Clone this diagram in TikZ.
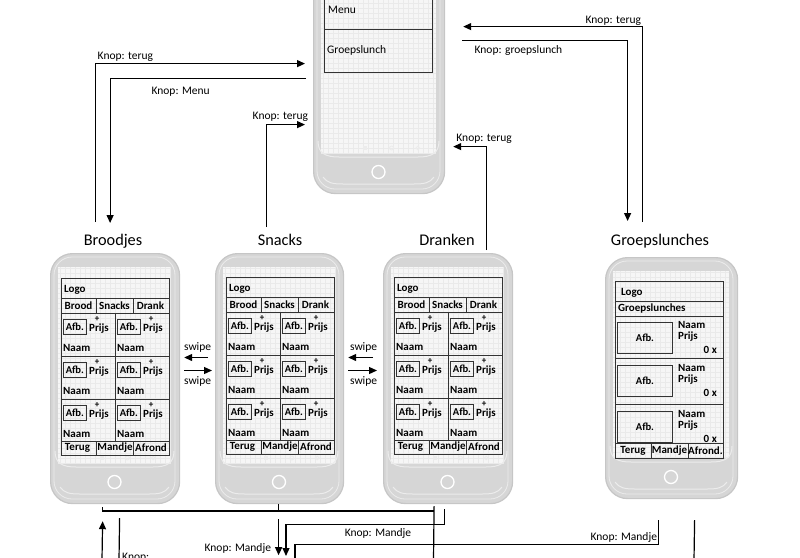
\documentclass[tikz,border=0pt]{standalone}
\usepackage{fontspec}
\setmainfont{Carlito}
\usetikzlibrary{arrows.meta}

\definecolor{telgrijs}{RGB}{214,214,214}
\definecolor{telrand}{RGB}{198,198,198}
\definecolor{tellicht}{RGB}{236,236,236}
\definecolor{scherm}{RGB}{246,246,246}
\definecolor{ruitgrijs}{RGB}{234,234,234}

% toestel: naam, links, boven, breedte, hoogte
\newcommand{\toestel}[5]{%
  \node[body, minimum width=#4pt, minimum height=#5pt, anchor=north west] (#1) at (#2,#3) {};
  \begin{scope}[shift={(#2,#3)}]
    \draw[rand] (4,4) rectangle (#4-4,#5-4);
    \fill[scherm] (8,14) rectangle (#4-8,#5-40);
    \draw[ruit] (8,14) grid (#4-8,#5-40);
    \draw[kin] (5,#5-52) .. controls (5,#5-40) and (12,#5-36) .. (26,#5-36) -- (#4-26,#5-36)
      .. controls (#4-12,#5-36) and (#4-5,#5-40) .. (#4-5,#5-52);
    \draw[kin] (10,#5-16) .. controls (14,#5-10) and (20,#5-9) .. (30,#5-9) -- (#4-30,#5-9)
      .. controls (#4-20,#5-9) and (#4-14,#5-10) .. (#4-10,#5-16);
    \draw[icoon] (0.2*#4-3,#5-45) -- (0.2*#4+3,#5-45);
    \fill[tellicht] (0.4*#4-2,#5-47) rectangle (0.4*#4+2,#5-43);
    \draw[icoon] (0.6*#4,#5-45) circle (2pt);
    \draw[icoon] (0.8*#4,#5-45) circle (1.8pt);
    \draw[knopring] (0.5*#4,#5-21) circle (6.5pt);
  \end{scope}}

% artikel in een menuscherm: links, boven
\newcommand{\artikel}[2]{%
  \node[afb, minimum width=23pt, minimum height=15pt, anchor=north west] at (#1+2,#2+6) {Afb.};
  \node[plus] at (#1+36,#2+6.5) {+};
  \node[tekst] at (#1+38,#2+15.5) {Prijs};
  \node[tekst, anchor=west] at (#1+2,#2+35) {Naam};}

% menuscherm Broodjes/Snacks/Dranken: links, boven
\newcommand{\menuscherm}[2]{%
  \begin{scope}[shift={(#1,#2)}]
    \draw[vak] (0,0) rectangle (108,177);
    \draw[vak] (0,20) -- (108,20) (0,35) -- (108,35) (0,78) -- (108,78)
      (0,121) -- (108,121) (0,163) -- (108,163);
    \draw[vak] (35,20) -- (35,35) (72,20) -- (72,35) (54,35) -- (54,163)
      (35,163) -- (35,177) (72,163) -- (72,177);
    \node[tekst, anchor=west] at (3,11.5) {Logo};
    \node[tekst] at (17.5,27.5) {Brood};
    \node[tekst] at (53.5,27.5) {Snacks};
    \node[tekst] at (89.5,27.5) {Drank};
    \artikel{0}{35}\artikel{54}{35}
    \artikel{0}{78}\artikel{54}{78}
    \artikel{0}{121}\artikel{54}{121}
    \node[tekst] at (16.5,170) {Terug};
    \node[tekst] at (54,170) {Mandje};
    \node[tekst] at (90,170) {Afrond};
  \end{scope}}

% groepslunch: links, boven
\newcommand{\lunch}[2]{%
  \node[afb, minimum width=55pt, minimum height=31pt, anchor=north west] at (#1+2,#2+6) {Afb.};
  \node[tekst, anchor=west] at (#1+63,#2+9) {Naam};
  \node[tekst, anchor=west] at (#1+63,#2+21) {Prijs};
  \node[tekst, anchor=east] at (#1+102,#2+34) {0 x};}

\begin{document}
\begin{tikzpicture}[x=1pt,y=-1pt,
  body/.style={draw=telrand, fill=telgrijs, line width=1.2pt, rounded corners=22pt, inner sep=0pt},
  rand/.style={draw=tellicht, line width=0.8pt, rounded corners=18pt},
  ruit/.style={draw=ruitgrijs, line width=0.3pt, step=5pt},
  kin/.style={draw=tellicht, line width=1pt},
  icoon/.style={draw=tellicht, line width=0.9pt},
  knopring/.style={draw=white, line width=1.3pt},
  vak/.style={draw=black!80, line width=0.9pt},
  tekst/.style={font=\bfseries\fontsize{11}{12}\selectfont, inner sep=0pt},
  afb/.style={draw=black!80, line width=0.8pt, font=\bfseries\fontsize{10.5}{12}\selectfont, inner sep=0pt},
  plus/.style={font=\bfseries\fontsize{9}{10}\selectfont, inner sep=0pt},
  menutekst/.style={font=\fontsize{11.5}{13}\selectfont, inner sep=0pt},
  knop/.style={font=\fontsize{11.5}{13}\selectfont, inner sep=2pt},
  titel/.style={font=\fontsize{16.3}{19}\selectfont, inner sep=0pt},
  pijl/.style={line width=1.2pt, -{Triangle[length=8pt,width=7pt]}},
  lijn/.style={line width=1.2pt}]
\useasboundingbox (0,0) rectangle (800,557);

% toestellen
\toestel{home}{313}{-57}{131}{250}
\toestel{broodjes}{50}{253}{129}{250}
\toestel{snacks}{215}{253}{128}{250}
\toestel{dranken}{383}{253}{129}{250}
\toestel{groepslunches}{605}{257}{132}{241}

% hoofdmenu
\draw[vak] (324,-30) rectangle (432,72);
\draw[vak] (324,29) -- (432,29);
\node[menutekst, anchor=west] at (328,10) {Menu};
\node[menutekst, anchor=west] at (327,50) {Groepslunch};

% menuschermen
\menuscherm{61}{278}
\menuscherm{226}{277}
\menuscherm{394}{277}

% groepslunches
\begin{scope}[shift={(615,281)}]
  \draw[vak] (0,0) rectangle (108,177);
  \draw[vak] (0,20) -- (108,20) (0,35) -- (108,35) (0,77) -- (108,77)
    (0,123) -- (108,123) (0,162) -- (108,162);
  \draw[vak] (36,162) -- (36,177) (73,162) -- (73,177);
  \node[tekst, anchor=west] at (6,11.5) {Logo};
  \node[tekst, anchor=west] at (3,27.5) {Groepslunches};
  \lunch{0}{35}
  \lunch{0}{78}
  \lunch{0}{124}
  \node[tekst] at (18,169.5) {Terug};
  \node[tekst] at (54.5,169.5) {Mandje};
  \node[tekst] at (90.5,169.5) {Afrond.};
\end{scope}

% titels
\node[titel, anchor=base] (tBroodjes) at (113,245) {Broodjes};
\node[titel, anchor=base] (tSnacks) at (280,245) {Snacks};
\node[titel, anchor=base] (tDranken) at (447,245) {Dranken};
\node[titel, anchor=base] (tGroep) at (660,245) {Groepslunches};

% knoppen naar en van het hoofdmenu
\draw[pijl] ([xshift=-20pt,yshift=31pt]broodjes.north) |- node[knop, above right]{Knop: terug} ([xshift=-8pt,yshift=5pt]home.west);
\draw[pijl] ([xshift=-7pt,yshift=-10pt]home.west) -| node[knop, pos=0.32, below=6pt]{Knop: Menu} ([xshift=-5pt,yshift=30pt]broodjes.north);
\draw[pijl] ([xshift=-13pt,yshift=26pt]snacks.north) |- node[knop, pos=0.68, above=1pt]{Knop: terug} ([xshift=-8pt,yshift=-56pt]home.west);
\draw[pijl] ([xshift=38pt,yshift=3pt]dranken.north) |- node[knop, above=1pt, xshift=-2pt]{Knop: terug} ([xshift=8pt,yshift=-78pt]home.east);
\draw[pijl] ([xshift=-29pt,yshift=35pt]groepslunches.north) |- node[knop, above left, inner sep=1pt]{Knop: terug} ([xshift=18pt,yshift=42pt]home.east);
\draw[pijl] ([xshift=17pt,yshift=28pt]home.east) -| node[knop, pos=0.17, below=2pt]{Knop: groepslunch} ([xshift=-44pt,yshift=36pt]groepslunches.north);

% swipe
\coordinate (sw1) at (0,357.5);
\coordinate (sw2) at (0,370.5);
\draw[pijl, shorten <=7pt, shorten >=4pt] (snacks.west |- sw1) -- node[knop, above=3pt]{swipe} (broodjes.east |- sw1);
\draw[pijl, shorten <=4pt, shorten >=3pt] (broodjes.east |- sw2) -- node[knop, below=3pt]{swipe} (snacks.west |- sw2);
\draw[pijl, shorten <=10pt, shorten >=4pt] (dranken.west |- sw1) -- node[knop, above=3pt]{swipe} (snacks.east |- sw1);
\draw[pijl, shorten <=4pt, shorten >=6pt] (snacks.east |- sw2) -- node[knop, below=3pt]{swipe} (dranken.west |- sw2);

% naar beneden (mandje)
\coordinate (bus) at (433.5,511);
\coordinate (uitD) at (433.5,560);
\coordinate (m2) at (286,556);
\coordinate (m3) at (295,560);
\coordinate (m4) at (694,560);
\coordinate (m5) at (102,560);
\coordinate (m6) at (119,560);
\draw[lijn] ([xshift=-13pt,yshift=-3pt]broodjes.south) |- (bus);
\draw[lijn] ([xshift=-1pt]snacks.south) -- ([xshift=-1pt]snacks.south |- bus);
\draw[lijn] ([xshift=-14pt,yshift=-2pt]dranken.south) -- (uitD);
\draw[pijl] ([xshift=-1pt,yshift=-15pt]snacks.south) -- node[knop, pos=0.82, left=5pt]{Knop: Mandje} ([xshift=-1pt,yshift=-51pt]snacks.south);
\draw[pijl] ([xshift=-3.5pt,yshift=-5pt]dranken.south) -- ++(0,15) -| node[knop, pos=0.21, below=2pt]{Knop: Mandje} (m2);
\draw[lijn] ([xshift=-13pt,yshift=-21pt]groepslunches.south) -- ++(0,24) -| node[knop, pos=0, above left, inner sep=1pt]{Knop: Mandje} (m3);
\draw[lijn] ([xshift=23pt,yshift=-21pt]groepslunches.south) -- (m4);
\draw[pijl] (m5) -- ([xshift=-12.5pt,yshift=-17pt]broodjes.south);
\draw[lijn] ([xshift=4.5pt,yshift=-14pt]broodjes.south) -- (m6);
\node[knop, anchor=base west] (knopB) at (120,560.5) {Knop:};
\end{tikzpicture}
\end{document}
